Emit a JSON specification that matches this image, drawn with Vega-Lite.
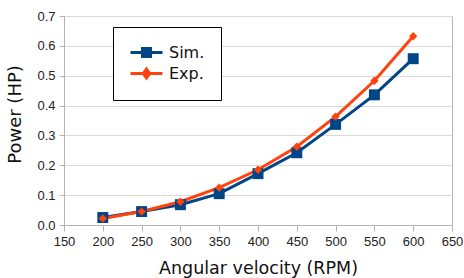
{
  "$schema": "https://vega.github.io/schema/vega-lite/v6.json",
  "width": 388,
  "height": 209,
  "autosize": {"type": "none"},
  "padding": {"left": 64, "top": 16, "right": 12, "bottom": 53},
  "background": "white",
  "config": {
    "view": {"stroke": "#b3b3b3", "strokeWidth": 1},
    "axis": {
      "labelFont": "Liberation Sans",
      "labelFontSize": 13,
      "labelColor": "#222",
      "labelFlush": false,
      "labelOverlap": false,
      "titleFont": "DejaVu Sans",
      "titleFontSize": 17.5,
      "titleFontWeight": "normal",
      "titleColor": "#111",
      "domainColor": "#b3b3b3",
      "tickColor": "#b3b3b3",
      "gridColor": "#d9d9d9",
      "tickSize": 6
    },
    "legend": {"labelFont": "DejaVu Sans"}
  },
  "data": {
    "values": [
      {"rpm": 200, "series": "Sim.", "power": 0.025},
      {"rpm": 250, "series": "Sim.", "power": 0.045},
      {"rpm": 300, "series": "Sim.", "power": 0.068},
      {"rpm": 350, "series": "Sim.", "power": 0.105},
      {"rpm": 400, "series": "Sim.", "power": 0.172},
      {"rpm": 450, "series": "Sim.", "power": 0.242},
      {"rpm": 500, "series": "Sim.", "power": 0.337},
      {"rpm": 550, "series": "Sim.", "power": 0.436},
      {"rpm": 600, "series": "Sim.", "power": 0.557},
      {"rpm": 200, "series": "Exp.", "power": 0.022},
      {"rpm": 250, "series": "Exp.", "power": 0.045},
      {"rpm": 300, "series": "Exp.", "power": 0.078},
      {"rpm": 350, "series": "Exp.", "power": 0.125},
      {"rpm": 400, "series": "Exp.", "power": 0.185},
      {"rpm": 450, "series": "Exp.", "power": 0.262},
      {"rpm": 500, "series": "Exp.", "power": 0.363},
      {"rpm": 550, "series": "Exp.", "power": 0.483},
      {"rpm": 600, "series": "Exp.", "power": 0.632}
    ]
  },
  "encoding": {
    "x": {
      "field": "rpm", "type": "quantitative",
      "scale": {"domain": [150, 650], "nice": false, "zero": false},
      "axis": {"title": "Angular velocity (RPM)", "values": [150,200,250,300,350,400,450,500,550,600,650], "grid": false, "labelPadding": 4, "titlePadding": 11}
    },
    "y": {
      "field": "power", "type": "quantitative",
      "scale": {"domain": [0, 0.7], "nice": false},
      "axis": {"title": "Power (HP)", "titleFontSize": 18, "titleY": 98, "values": [0,0.1,0.2,0.3,0.4,0.5,0.6,0.7], "grid": true, "tickSize": 5, "labelPadding": 4, "titlePadding": 12}
    },
    "color": {
      "field": "series", "type": "nominal",
      "scale": {"domain": ["Sim.", "Exp."], "range": ["#004586", "#ff420e"]}
    }
  },
  "layer": [
    {
      "mark": {"type": "line", "strokeWidth": 3}
    },
    {
      "transform": [{"filter": "datum.series === 'Sim.'"}],
      "mark": {"type": "point", "shape": "square", "filled": true, "opacity": 1, "size": 120}
    },
    {
      "transform": [{"filter": "datum.series === 'Exp.'"}],
      "mark": {"type": "point", "shape": "diamond", "filled": true, "opacity": 1, "size": 70}
    },
    {
      "mark": {"type": "point", "filled": true, "opacity": 0},
      "encoding": {
        "shape": {
          "field": "series", "type": "nominal",
          "scale": {"domain": ["Sim.", "Exp."], "range": ["M-1,0H3M0.5,-0.5H1.5V0.5H0.5Z", "M-1,0H3M1,-0.55L1.4,0L1,0.55L0.6,0Z"]},
          "legend": {
            "title": null,
            "orient": "none",
            "legendX": 49,
            "legendY": 11,
            "padding": 16,
            "strokeColor": "black",
            "fillColor": "white",
            "labelFontSize": 16,
            "labelColor": "#111",
            "labelOffset": 21,
            "symbolSize": 256,
            "symbolStrokeWidth": 3,
            "symbolOpacity": 1,
            "rowPadding": 0
          }
        }
      }
    }
  ]
}
